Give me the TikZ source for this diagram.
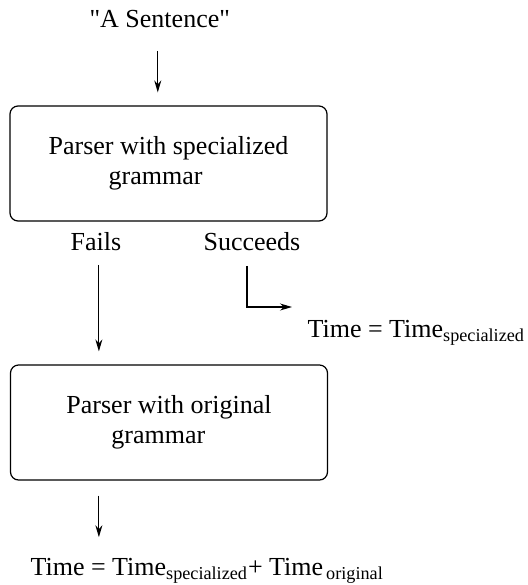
\documentclass[tikz,border=0pt]{standalone}
\usepackage{amsmath}
\usepackage{fontspec}
\setmainfont{Liberation Serif}
\usetikzlibrary{positioning}
\usetikzlibrary{arrows.meta}

\begin{document}
\begin{tikzpicture}[x=0.5pt,y=-0.5pt,
    font=\fontsize{13pt}{15pt}\selectfont,
    line width=0.6pt,
    flow/.style={-{Stealth[length=6pt,width=3.5pt]}},
    parser/.style={draw,
        rounded corners=4pt,
        minimum width=158.5pt,
        minimum height=57.5pt,
        align=left},
    tag/.style={inner sep=0pt, anchor=base west}]
\useasboundingbox (0,0) rectangle (527,585);

% Input
\node[tag] (sentence) at (89,27) {\textquotedbl A Sentence\textquotedbl};

% Parser with specialized grammar
\node [parser] (specparser) at (168.5,163.5)
    {Parser with specialized\\\hspace*{30pt}grammar};

% Outcomes
\node[tag] (fails) at (70,250) {Fails};
\node[tag] (succeeds) at (203,250) {Succeeds};
\node[tag] (specmtime) at (307,337) {Time = Time$_{\text{specialized}}$};

% Parser with original grammar
\node [parser] (origparser) at (169,422.5)
    {Parser with original\\\hspace*{22.5pt}grammar};

% Total time
\node[tag] (totaltime) at (30,575)
    {Time = Time$_{\text{specialized}}$+ Time$_{\,\text{original}}$};

% Arrows
\draw[flow, shorten <=11.5pt, shorten >=6.5pt] ([xshift=-1pt]sentence.south) -- ([xshift=-1pt]sentence.south |- specparser.north);

\coordinate (failsdrop) at ([xshift=1.5pt]fails.south);
\draw[flow, shorten <=7pt, shorten >=6.5pt] (failsdrop) -- (failsdrop |- origparser.north);

\coordinate (succend) at (292,307);
\draw[flow, shorten <=7.5pt] ([xshift=-2.5pt]succeeds.south) |- (succend);

\draw[flow, shorten <=7.5pt, shorten >=10pt] (origparser.south -| failsdrop) -- (failsdrop |- totaltime.north);

\end{tikzpicture}
\end{document}
